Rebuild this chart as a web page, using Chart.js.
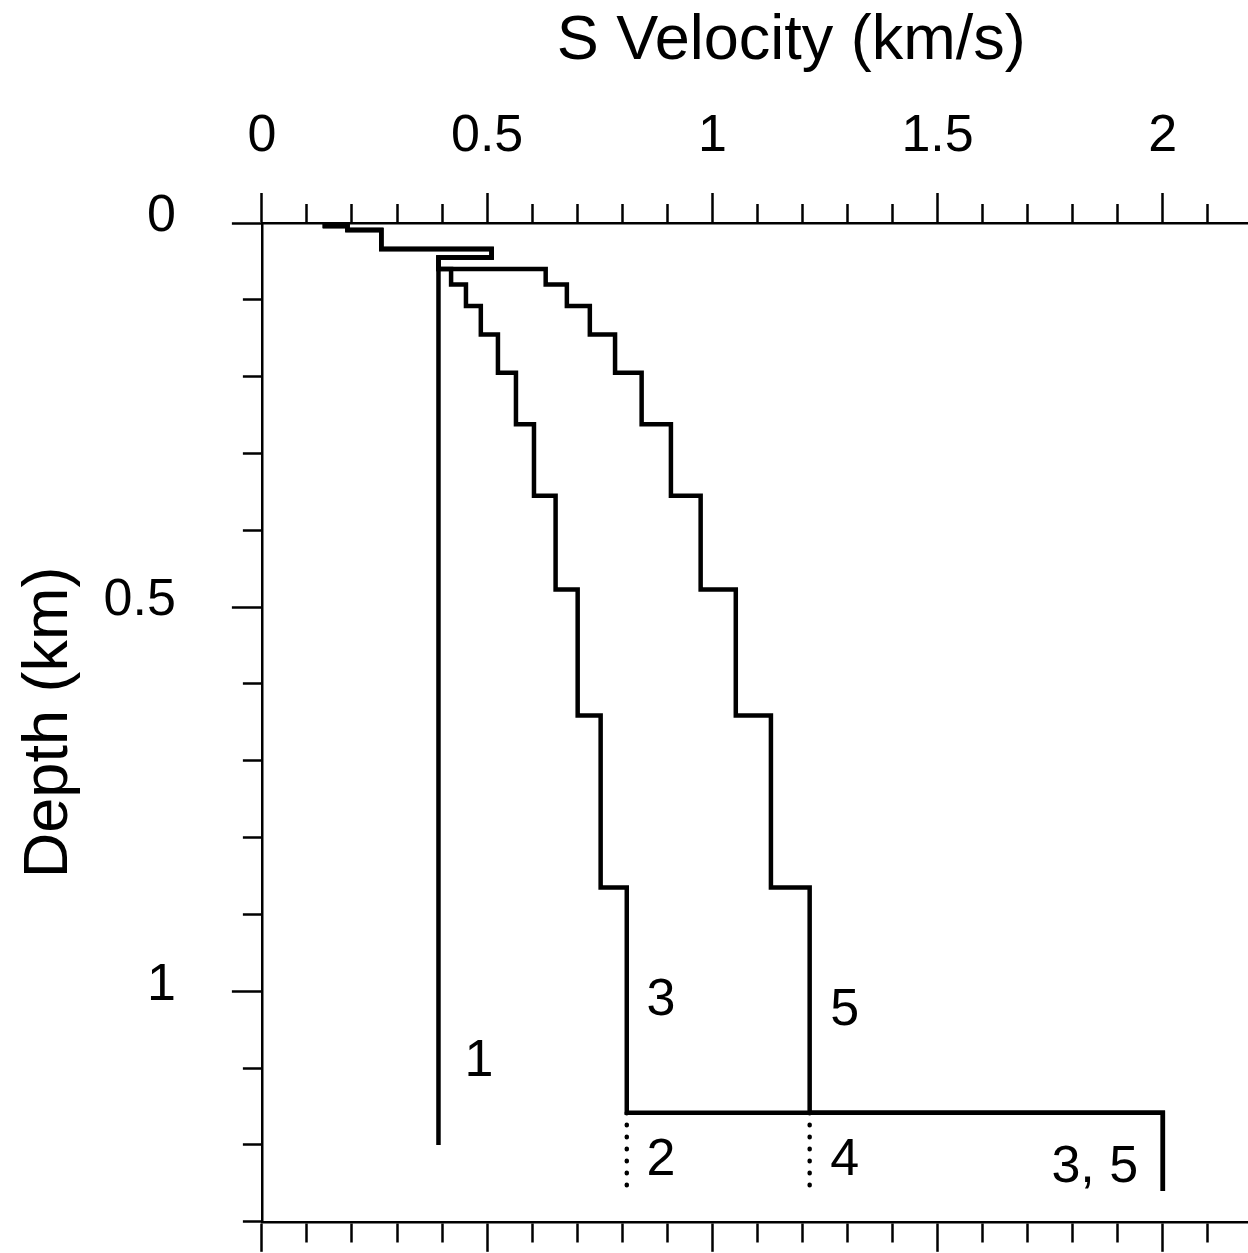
<!DOCTYPE html>
<html>
<head>
<meta charset="utf-8">
<script src="https://cdn.jsdelivr.net/npm/chart.js@4/dist/chart.umd.min.js"></script>
<style>
  html, body { margin: 0; padding: 0; background: #fff; overflow: hidden; }
  /* the original plot runs past the right edge of the picture */
  #wrap { position: relative; width: 1346px; height: 1253px; }
</style>
</head>
<body>
<div id="wrap"><canvas id="vsChart"></canvas></div>
<script>
// layer tops (km) shared by the stepped profiles
const depthTops = [0, 0.004, 0.009, 0.034, 0.045, 0.06, 0.08, 0.108, 0.145, 0.195, 0.262, 0.355, 0.477, 0.641, 0.865, 1.158];

// S velocity (km/s) of each layer
const vsModel1 = [0.14, 0.19, 0.265, 0.51, 0.392];
const vsModel3 = [0.14, 0.19, 0.265, 0.51, 0.392, 0.42, 0.453, 0.486, 0.524, 0.564, 0.604, 0.652, 0.701, 0.752, 0.81, 2.0];
const vsModel5 = [0.14, 0.19, 0.265, 0.51, 0.392, 0.63, 0.677, 0.728, 0.784, 0.843, 0.908, 0.974, 1.052, 1.13, 1.216, 2.0];
const model1Bottom = 1.2;
const model35Bottom = 1.26;

// models 2 and 4: dotted half-space below models 3 and 5
const dottedVs = [0.81, 1.216];
const dottedDepth = [1.158, 1.262];

// tick labels
const xTickLabels = [0, 0.5, 1, 1.5, 2];
const yTickLabels = [0, 0.5, 1];

// curve numbers, placed in data units
const curveNames = ["1", "3", "5", "2", "4", "3, 5"];
const curveNameVs = [0.482, 0.886, 1.294, 0.886, 1.294, 1.849];
const curveNameDepth = [1.092, 1.012, 1.025, 1.22, 1.22, 1.23];

const FONT = "'Liberation Sans', Arial, Helvetica, sans-serif";

function profile(vs, bottom) {
  const pts = vs.map((v, i) => ({ x: v, y: depthTops[i] }));
  pts.push({ x: vs[vs.length - 1], y: bottom });
  return pts;
}

const isMajor = v => Math.abs(v * 2 - Math.round(v * 2)) < 1e-6;

// long ticks at every 0.5, short ones in between.
// gap = blank stretch at the outer end (used to push the y labels away)
function gridOpts(side, gap) {
  return {
    drawOnChartArea: false,
    color: "#000",
    tickColor: "#000",
    tickLength: 30 + gap,
    tickWidth: 2.5,
    tickBorderDash: ctx => {
      const major = ctx.tick && isMajor(ctx.tick.value);
      if (side === "bottom") return major ? [] : [19, 60];
      return [0, major ? gap : gap + 11, 60];
    }
  };
}

function labelOnly(list) {
  return v => list.some(t => Math.abs(t - v) < 1e-6) ? String(v) : "";
}

const solid = { borderColor: "#000", borderWidth: 4.5, pointRadius: 0, showLine: true, stepped: "after", fill: false };

const curveNumbers = {
  id: "curveNumbers",
  afterDatasetsDraw(chart) {
    const { ctx, scales } = chart;
    ctx.save();
    ctx.fillStyle = "#000";
    ctx.font = "52px " + FONT;
    ctx.textAlign = "center";
    ctx.textBaseline = "middle";
    curveNames.forEach((name, i) => {
      ctx.fillText(name, scales.x.getPixelForValue(curveNameVs[i]), scales.y.getPixelForValue(curveNameDepth[i]));
    });
    ctx.restore();
  }
};

new Chart(document.getElementById("vsChart"), {
  type: "scatter",
  data: {
    datasets: [
      { ...solid, data: profile(vsModel1, model1Bottom) },
      { ...solid, data: profile(vsModel3, model35Bottom) },
      { ...solid, data: profile(vsModel5, model35Bottom) },
      ...dottedVs.map(v => ({
        borderColor: "#000", borderWidth: 4.5, pointRadius: 0, showLine: true,
        borderDash: [0.5, 11.5], borderCapStyle: "round",
        data: dottedDepth.map(d => ({ x: v, y: d }))
      }))
    ]
  },
  options: {
    responsive: true,
    maintainAspectRatio: false,
    animation: false,
    layout: { padding: 0 },
    plugins: { legend: { display: false }, tooltip: { enabled: false } },
    scales: {
      x: {
        type: "linear",
        position: "top",
        min: 0,
        max: 2.35,
        grid: gridOpts("top", 0),
        border: { display: true, color: "#000", width: 2.5 },
        ticks: {
          stepSize: 0.1,
          maxRotation: 0,
          autoSkip: false,
          color: "#000",
          padding: 25.5,
          font: { family: FONT, size: 52 },
          callback: labelOnly(xTickLabels)
        },
        title: {
          display: true,
          text: "S Velocity (km/s)",
          color: "#000",
          font: { family: FONT, size: 63 },
          padding: { top: 4, bottom: 0 }
        }
      },
      xBottom: {
        type: "linear",
        position: "bottom",
        min: 0,
        max: 2.35,
        grid: gridOpts("bottom", 0),
        border: { display: true, color: "#000", width: 2.5 },
        ticks: { stepSize: 0.1, display: false, autoSkip: false }
      },
      y: {
        type: "linear",
        position: "left",
        reverse: true,
        min: 0,
        max: 1.3,
        grid: gridOpts("left", 56),
        border: { display: true, color: "#000", width: 2.5 },
        ticks: {
          stepSize: 0.1,
          autoSkip: false,
          color: "#000",
          padding: 0,
          labelOffset: -6,
          font: { family: FONT, size: 52 },
          callback: labelOnly(yTickLabels)
        },
        title: {
          display: true,
          text: "Depth (km)",
          color: "#000",
          font: { family: FONT, size: 63 },
          padding: { top: 12, bottom: 16 }
        }
      }
    }
  },
  plugins: [curveNumbers]
});
</script>
</body>
</html>
